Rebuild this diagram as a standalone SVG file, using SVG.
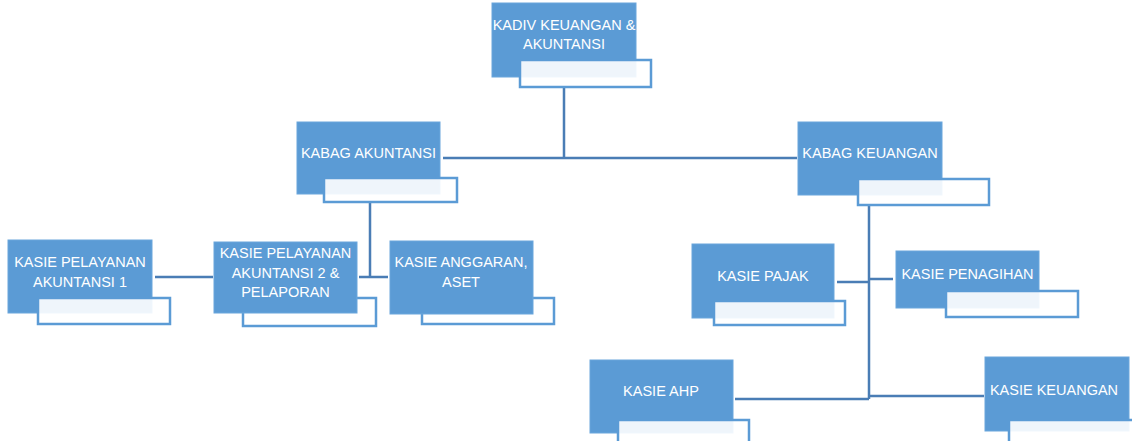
<svg xmlns="http://www.w3.org/2000/svg" width="1132" height="441" viewBox="0 0 1132 441">
<style>
.b{fill:#5b9bd5;stroke:#6aa6dc;stroke-width:1}
.w{fill:#ffffff;fill-opacity:0.9;stroke:#5b9bd5;stroke-width:2.5}
.t{font-family:"Liberation Sans",Arial,sans-serif;font-size:14.5px;fill:#ffffff;text-anchor:middle}
.c{fill:none;stroke:#4a7db5;stroke-width:2.5}
</style>
<rect width="1132" height="441" fill="#ffffff"/>
<g id="connectors">
<path class="c" d="M564 87V158M443 158H797"/>
<path class="c" d="M370 202V277M359 277H388"/>
<path class="c" d="M155 277H213"/>
<path class="c" d="M869 205V399M837 282H869M869 279H893M735 399H869M869 396H984"/>
</g>
<g id="kadiv">
<rect class="b" x="492" y="3" width="144" height="74"/>
<rect class="w" x="520" y="60" width="131" height="27"/>
<text class="t" x="564" y="30">KADIV KEUANGAN &amp;</text>
<text class="t" x="564" y="49">AKUNTANSI</text>
</g>
<g id="kabag-akuntansi">
<rect class="b" x="297" y="122" width="143" height="72"/>
<rect class="w" x="324" y="178" width="133" height="24"/>
<text class="t" x="368.5" y="158">KABAG AKUNTANSI</text>
</g>
<g id="kabag-keuangan">
<rect class="b" x="798" y="122" width="144" height="73"/>
<rect class="w" x="858" y="179" width="131" height="26"/>
<text class="t" x="870" y="158">KABAG KEUANGAN</text>
</g>
<g id="kasie-pelayanan-1">
<rect class="b" x="8" y="240" width="144" height="73"/>
<rect class="w" x="38" y="298" width="132" height="26"/>
<text class="t" x="80" y="267">KASIE PELAYANAN</text>
<text class="t" x="80" y="287">AKUNTANSI 1</text>
</g>
<g id="kasie-pelayanan-2">
<rect class="w" x="243" y="298" width="133" height="28"/>
<rect class="b" x="214" y="242" width="143" height="71"/>
<text class="t" x="285.5" y="258">KASIE PELAYANAN</text>
<text class="t" x="285.5" y="278">AKUNTANSI 2 &amp;</text>
<text class="t" x="285.5" y="297">PELAPORAN</text>
</g>
<g id="kasie-anggaran">
<rect class="w" x="422" y="298" width="132" height="26"/>
<rect class="b" x="390" y="241" width="143" height="73"/>
<text class="t" x="461" y="267">KASIE ANGGARAN,</text>
<text class="t" x="461" y="287">ASET</text>
</g>
<g id="kasie-pajak">
<rect class="b" x="692" y="244" width="142" height="74"/>
<rect class="w" x="714" y="301" width="131" height="24"/>
<text class="t" x="763" y="281">KASIE PAJAK</text>
</g>
<g id="kasie-penagihan">
<rect class="b" x="896" y="251" width="143" height="57"/>
<rect class="w" x="946" y="291" width="132" height="26"/>
<text class="t" x="967.5" y="279">KASIE PENAGIHAN</text>
</g>
<g id="kasie-ahp">
<rect class="b" x="590" y="360" width="143" height="73"/>
<rect class="w" x="618" y="420" width="131" height="30"/>
<text class="t" x="661" y="396">KASIE AHP</text>
</g>
<g id="kasie-keuangan">
<rect class="b" x="985" y="357" width="144" height="74"/>
<rect class="w" x="1009" y="420" width="135" height="30"/>
<text class="t" x="1054" y="395">KASIE KEUANGAN</text>
</g>
</svg>
